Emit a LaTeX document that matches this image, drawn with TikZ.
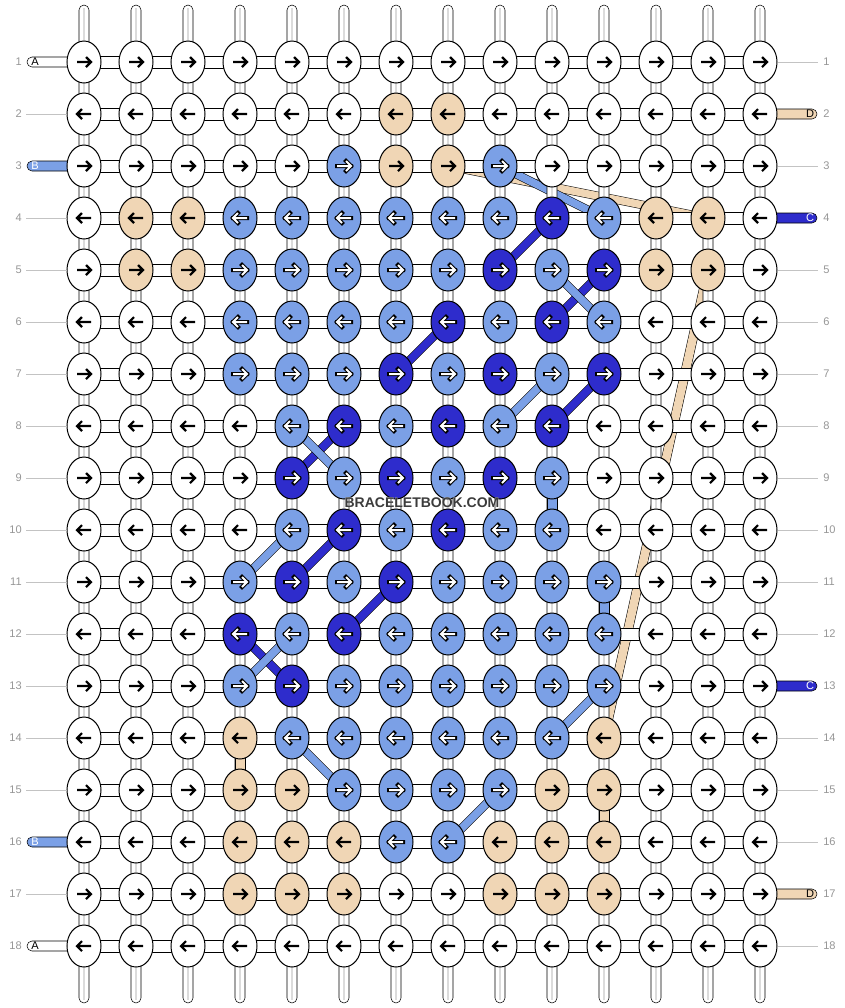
\documentclass[tikz,border=0pt]{standalone}
\usepackage{fontspec}
\setmainfont{Liberation Sans}
\usepackage[outline]{contour}
\usetikzlibrary{calc,shapes.geometric}
\definecolor{kW}{RGB}{255,255,255}
\definecolor{kT}{RGB}{240,214,181}
\definecolor{kL}{RGB}{123,160,230}
\definecolor{kD}{RGB}{46,44,204}
\definecolor{rownum}{RGB}{150,150,150}
\definecolor{rowline}{RGB}{195,195,195}
\definecolor{markgray}{RGB}{60,60,60}
\pgfdeclarelayer{bands}
\pgfdeclarelayer{strands}
\pgfsetlayers{bands,strands,main}
\contourlength{0.8pt}

\begin{document}
\begin{tikzpicture}[x=0.75pt, y=-0.75pt, line width=0.75pt,
    knot/.style={draw=black, ellipse, minimum width=25.5pt, minimum height=31.5pt, inner sep=0pt},
    ink-W/.style={draw=black, line width=1.6pt},
    ink-T/.style={ink-W},
    ink-L/.style={preaction={draw=black, line width=3pt, line cap=rect}, draw=white, line width=1.5pt},
    ink-D/.style={ink-L},
    strand/.style={draw=black, fill=white, rounded corners=3.75pt},
    core/.style={draw=black!14, line width=1.1pt},
    weft/.style={draw=black, fill=white},
    band/.style={draw=black, double=#1, double distance=5.6pt},
    rownum/.style={text=rownum, font=\fontsize{8.3}{10}\selectfont, inner sep=0pt},
    rowline/.style={draw=rowline},
    tag/.style={draw=black, fill=#1, rounded corners=3.75pt},
    taglabel/.style={font=\fontsize{8.3}{10}\selectfont, inner sep=0pt}]

    \useasboundingbox (0,0) rectangle (844,1008);

    % knots, row by row
    \foreach \r/\knots in {
        1/{W,W,W,W,W,W,W,W,W,W,W,W,W,W},
        2/{W,W,W,W,W,W,T,T,W,W,W,W,W,W},
        3/{W,W,W,W,W,L,T,T,L,W,W,W,W,W},
        4/{W,T,T,L,L,L,L,L,L,D,L,T,T,W},
        5/{W,T,T,L,L,L,L,L,D,L,D,T,T,W},
        6/{W,W,W,L,L,L,L,D,L,D,L,W,W,W},
        7/{W,W,W,L,L,L,D,L,D,L,D,W,W,W},
        8/{W,W,W,W,L,D,L,D,L,D,W,W,W,W},
        9/{W,W,W,W,D,L,D,L,D,L,W,W,W,W},
        10/{W,W,W,W,L,D,L,D,L,L,W,W,W,W},
        11/{W,W,W,L,D,L,D,L,L,L,L,W,W,W},
        12/{W,W,W,D,L,D,L,L,L,L,L,W,W,W},
        13/{W,W,W,L,D,L,L,L,L,L,L,W,W,W},
        14/{W,W,W,T,L,L,L,L,L,L,T,W,W,W},
        15/{W,W,W,T,T,L,L,L,L,T,T,W,W,W},
        16/{W,W,W,T,T,T,L,L,T,T,T,W,W,W},
        17/{W,W,W,T,T,T,W,W,T,T,T,W,W,W},
        18/{W,W,W,W,W,W,W,W,W,W,W,W,W,W}}{
        \pgfmathtruncatemacro\d{mod(\r,2)==1 ? 1 : -1}
        \foreach \k [count=\c] in \knots {
            \node[knot, fill=k\k] (k-\r-\c) at ({84+52*(\c-1)},{62+52*(\r-1)}) {};
            \draw[ink-\k] ($(k-\r-\c)+(-7*\d,0)$) -- ++(14*\d,0)
                ($(k-\r-\c)+(2*\d,-5)$) -- ++(5*\d,5) -- ++(-5*\d,5);
        }
    }

    % vertical strands and rows
    \begin{pgfonlayer}{strands}
        \foreach \c in {1,...,14}{
            \draw[strand] ({84+52*(\c-1)-5},5) rectangle ({84+52*(\c-1)+5},1003);
            \draw[core] ({84+52*(\c-1)},8) -- ({84+52*(\c-1)},1000);
        }
        \foreach \r in {1,...,18}
            \draw[weft] (84,{62+52*(\r-1)-6}) rectangle (760,{62+52*(\r-1)+6});
        % coloured links between rows
        \foreach \r/\c/\k in {9/10/kL, 11/11/kL, 14/4/kT, 15/11/kT}
            \draw[fill=\k] ($(k-\r-\c.south)+(-5,-4)$) rectangle ($(k-\r-\c.south)+(5,14)$);
        % thread ends
        \draw[tag=white] (27,57) rectangle (72,67);
        \draw[tag=kL] (27,161) rectangle (72,171);
        \draw[tag=kL] (27,837) rectangle (72,847);
        \draw[tag=white] (27,941) rectangle (72,951);
        \draw[tag=kT] (772,109) rectangle (817,119);
        \draw[tag=kD] (772,213) rectangle (817,223);
        \draw[tag=kD] (772,681) rectangle (817,691);
        \draw[tag=kT] (772,889) rectangle (817,899);
    \end{pgfonlayer}

    % diagonal bands
    \begin{pgfonlayer}{bands}
        \draw[band=kT] (k-3-8.center) -- (k-4-13.center);
        \draw[band=kT, double distance=6.4pt] (k-5-13.center) -- (k-14-11.center);
        \draw[band=kL] (k-3-9.center) -- (k-4-11.center);
        \draw[band=kD] (k-4-10.center) -- (k-5-9.center);
        \draw[band=kD] (k-5-11.center) -- (k-6-10.center);
        \draw[band=kD] (k-6-8.center) -- (k-7-7.center);
        \draw[band=kD] (k-7-11.center) -- (k-8-10.center);
        \draw[band=kD] (k-8-6.center) -- (k-9-5.center);
        \draw[band=kD] (k-10-6.center) -- (k-11-5.center);
        \draw[band=kD] (k-11-7.center) -- (k-12-6.center);
        \draw[band=kD] (k-12-4.center) -- (k-13-5.center);
        \draw[band=kL] (k-5-10.center) -- (k-6-11.center);
        \draw[band=kL] (k-7-10.center) -- (k-8-9.center);
        \draw[band=kL] (k-8-5.center) -- (k-9-6.center);
        \draw[band=kL] (k-10-5.center) -- (k-11-4.center);
        \draw[band=kL] (k-12-5.center) -- (k-13-4.center);
        \draw[band=kL] (k-13-11.center) -- (k-14-10.center);
        \draw[band=kL] (k-14-5.center) -- (k-15-6.center);
        \draw[band=kL] (k-15-9.center) -- (k-16-8.center);
    \end{pgfonlayer}

    % row numbers
    \foreach \r in {1,...,18}{
        \node[rownum, anchor=east] (ln-\r) at (22,{62+52*(\r-1)}) {\r};
        \node[rownum, anchor=west] (rn-\r) at (823,{62+52*(\r-1)}) {\r};
    }
    \foreach \r in {2,4,5,6,7,8,9,10,11,12,13,14,15,17}
        \draw[rowline] (26,{62+52*(\r-1)}) -- (k-\r-1.west);
    \foreach \r in {1,3,5,6,7,8,9,10,11,12,14,15,16,18}
        \draw[rowline] (k-\r-14.east) -- (818,{62+52*(\r-1)});
    \node[taglabel] (end-a1) at (35,62) {A};
    \node[taglabel, text=white] (end-b1) at (35,166) {B};
    \node[taglabel, text=white] (end-b2) at (35,842) {B};
    \node[taglabel] (end-a2) at (35,946) {A};
    \node[taglabel] (end-d1) at (810,114) {D};
    \node[taglabel, text=white] (end-c1) at (810,218) {C};
    \node[taglabel, text=white] (end-c2) at (810,686) {C};
    \node[taglabel] (end-d2) at (810,894) {D};

    \node[text=markgray, font=\bfseries\fontsize{10.5}{12}\selectfont, inner sep=0pt] (mark) at (422,503) {\contour{white}{BRACELETBOOK.COM}};

\end{tikzpicture}
\end{document}
